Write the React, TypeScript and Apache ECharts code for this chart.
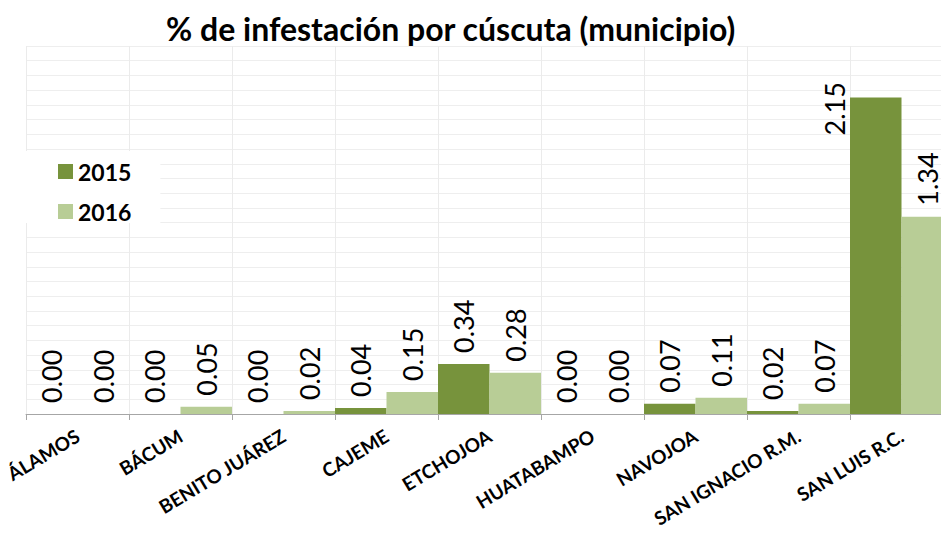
import React, { useEffect, useRef } from "react";
import * as echarts from "echarts";

const categories = [
  "ÁLAMOS",
  "BÁCUM",
  "BENITO JUÁREZ",
  "CAJEME",
  "ETCHOJOA",
  "HUATABAMPO",
  "NAVOJOA",
  "SAN IGNACIO R.M.",
  "SAN LUIS R.C.",
];
const values2015 = [0.0, 0.0, 0.0, 0.04, 0.34, 0.0, 0.07, 0.02, 2.15];
const values2016 = [0.0, 0.05, 0.02, 0.15, 0.28, 0.0, 0.11, 0.07, 1.34];
const seriesNames = ["2015", "2016"];
const titleText = "% de infestación por cúscuta (municipio)";

const FONT = "Lato, 'Open Sans', sans-serif";

export default function App() {
  const ref = useRef<HTMLDivElement>(null);
  useEffect(() => {
    document.body.style.margin = "0";
    if (!ref.current) return;
    const chart = echarts.init(ref.current, undefined, { renderer: "svg" });
    const labelCfg = {
      show: true,
      position: "top",
      rotate: 90,
      align: "left",
      verticalAlign: "middle",
      distance: 11,
      color: "#000",
      fontFamily: FONT,
      fontSize: 27,
      lineHeight: 21,
      formatter: (p: any) => Number(p.value).toFixed(2),
    };
    // the tallest bar's label does not fit above it; it sits beside its top-left
    const maxVal = Math.max(...values2015);
    const data2015 = values2015.map((v) =>
      v === maxVal ? { value: v, label: { position: [-16, 38] } } : v
    );
    chart.setOption({
      animation: false,
      backgroundColor: "#ffffff",
      title: {
        text: titleText,
        left: 166,
        top: 12,
        padding: 0,
        textStyle: { fontFamily: FONT, fontWeight: "bold", fontSize: 32, color: "#000" },
      },
      legend: {
        orient: "vertical",
        left: 26,
        top: 151,
        backgroundColor: "#ffffff",
        padding: [9, 29, 0, 32],
        itemWidth: 15,
        itemHeight: 15,
        itemGap: 17,
        icon: "rect",
        textStyle: { fontFamily: FONT, fontWeight: "bold", fontSize: 23, color: "#000" },
        data: seriesNames,
      },
      grid: { left: 26, top: 46, width: 927, height: 368, containLabel: false },
      xAxis: {
        type: "category",
        data: categories,
        axisLine: { lineStyle: { color: "#a6a6a6", width: 1 } },
        axisTick: { show: true, length: 6, lineStyle: { color: "#a6a6a6" } },
        splitLine: { show: true, lineStyle: { color: "#ebebeb", width: 1 } },
        axisLabel: {
          rotate: 31,
          interval: 0,
          margin: 20,
          fontFamily: FONT,
          fontWeight: "bold",
          fontSize: 19,
          color: "#000",
        },
      },
      yAxis: {
        type: "value",
        min: 0,
        max: 2.5,
        interval: 0.1,
        axisLabel: { show: false },
        axisLine: { show: false },
        axisTick: { show: false },
        splitLine: { show: true, lineStyle: { color: "#eeeeee", width: 1 } },
      },
      series: [
        {
          name: seriesNames[0],
          type: "bar",
          data: data2015,
          barGap: "0%",
          barCategoryGap: "0%",
          itemStyle: { color: "#77933C" },
          label: labelCfg,
        },
        {
          name: seriesNames[1],
          type: "bar",
          data: values2016,
          barGap: "0%",
          barCategoryGap: "0%",
          itemStyle: { color: "#B8CD96" },
          label: labelCfg,
        },
      ],
    });
    return () => chart.dispose();
  }, []);
  return (
    <div style={{ width: 941, height: 535, overflow: "hidden", position: "relative" }}>
      <div ref={ref} style={{ width: 970, height: 535 }} />
    </div>
  );
}
